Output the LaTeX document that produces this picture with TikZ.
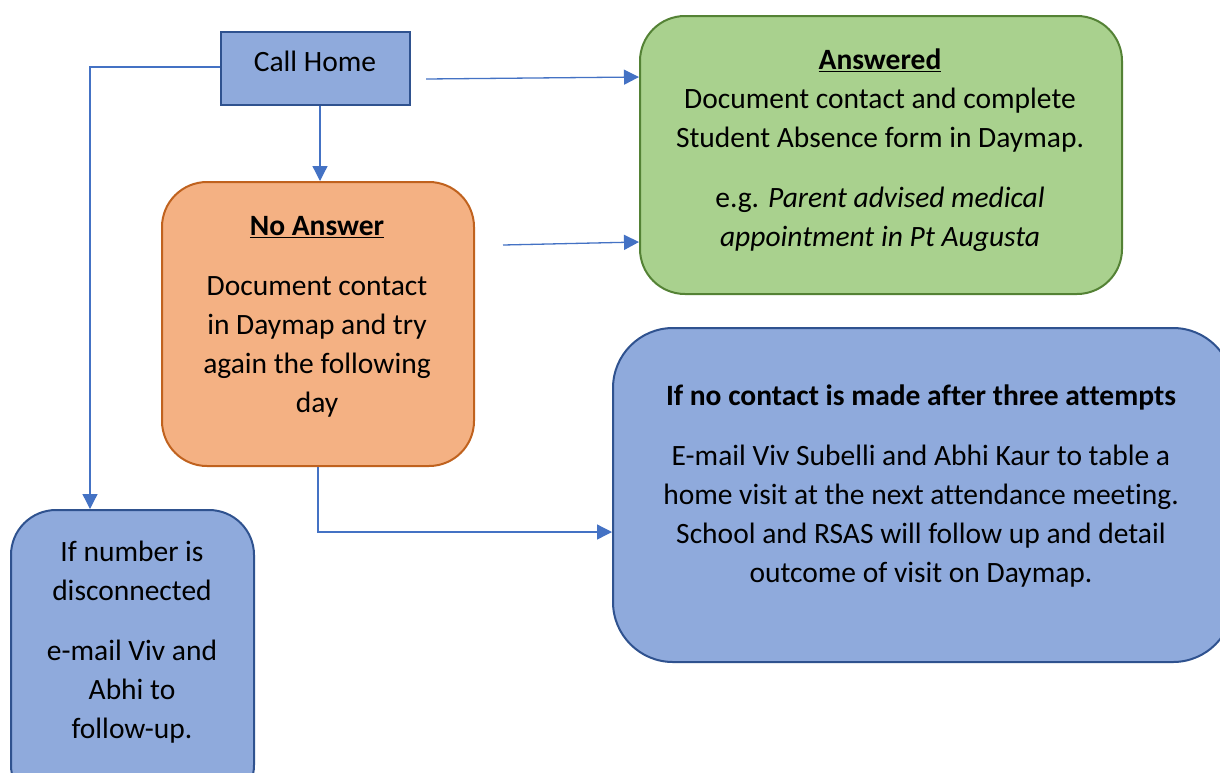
\documentclass[tikz,border=0pt]{standalone}
\usepackage{fontspec}
\setmainfont{Carlito}[Ligatures=CommonOff]
\usetikzlibrary{arrows.meta}
\definecolor{bluefill}{HTML}{8FAADC}
\definecolor{blueline}{HTML}{2F528F}
\definecolor{greenfill}{HTML}{A9D18E}
\definecolor{greenline}{HTML}{548235}
\definecolor{orangefill}{HTML}{F4B183}
\definecolor{orangeline}{HTML}{C0621E}
\definecolor{conn}{HTML}{4472C4}
\begin{document}
\begin{tikzpicture}[x=1pt,y=-1pt,
  boxbase/.style={draw, line width=2pt, inner sep=0pt, anchor=north west},
  bluebox/.style={boxbase, fill=bluefill, draw=blueline},
  greenbox/.style={boxbase, fill=greenfill, draw=greenline},
  orangebox/.style={boxbase, fill=orangefill, draw=orangeline},
  txt/.style={inner sep=0pt, anchor=north, align=center, font=\fontsize{29.5}{39}\selectfont},
  link/.style={draw=conn, line width=1.3pt, -{Triangle[length=15pt,width=15pt]}}
]
\useasboundingbox (0,0) rectangle (1220,772);
\clip (0,0) rectangle (1220,772);
\fill[white] (0,0) rectangle (1220,772);

% boxes
\node[bluebox, minimum width=189pt, minimum height=73pt] (call) at (220,31) {};
\node[greenbox, rounded corners=45pt, minimum width=482pt, minimum height=278pt] (ans) at (639,15) {};
\node[orangebox, rounded corners=45pt, minimum width=312pt, minimum height=284pt] (noans) at (161,181) {};
\node[bluebox, rounded corners=60pt, minimum width=620pt, minimum height=334pt] (three) at (612,327) {};
\node[bluebox, rounded corners=45pt, minimum width=243pt, minimum height=300pt] (disc) at (10,509) {};

% texts
\node[txt] (calltxt) at (315,44) {\strut Call Home};
\node[txt] (anstxt) at (880,42) {\strut\textbf{\underline{Answered}}\\
Document contact and complete\\
Student Absence form in Daymap.\\[21pt]
e.g. \textit{Parent advised medical}\\
\textit{appointment in Pt Augusta}};
\node[txt] (noanstxt) at (317,208) {\strut\textbf{\underline{No Answer}}\\[21pt]
Document contact\\
in Daymap and try\\
again the following\\
day};
\node[txt] (threetxt) at (921,378) {\strut\textbf{If no contact is made after three attempts}\\[21pt]
E-mail Viv Subelli and Abhi Kaur to table a\\
home visit at the next attendance meeting.\\
School and RSAS will follow up and detail\\
outcome of visit on Daymap.};
\node[txt] (disctxt) at (132,534) {\strut If number is\\
disconnected\\[21pt]
e-mail Viv and\\
Abhi to\\
follow-up.};

% connectors
\coordinate (a1) at (426,79);
\coordinate (a2) at (503,245);
\coordinate (leftturn) at (90,67);
\coordinate (lowturn) at (318,532);

\draw[link] (call.west |- leftturn) -- (leftturn) -- (leftturn |- disc.north);
\draw[link] (call.south -| 320,0) -- (320,0 |- noans.north);
\draw[link] (a1) -- (ans.west |- 0,77);
\draw[link] (a2) -- (ans.west |- 0,242);
\draw[link] (noans.south -| lowturn) -- (lowturn) -- (three.west |- lowturn);
\end{tikzpicture}
\end{document}
